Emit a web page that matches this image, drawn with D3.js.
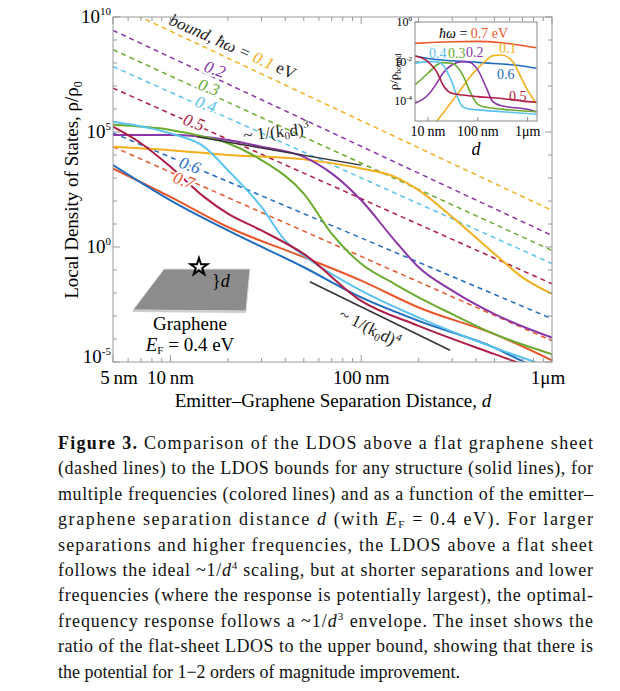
<!DOCTYPE html>
<html>
<head>
<meta charset="utf-8">
<script src="https://cdn.jsdelivr.net/npm/d3@7"></script>
<style>
  body { margin: 0; background: #fff; }
  svg text { font-family: "Liberation Serif", "DejaVu Serif", serif; }
  .halo { paint-order: stroke; stroke: #fff; stroke-width: 4px; stroke-linejoin: round; }
</style>
</head>
<body>
<div id="chart"></div>
<script>
// Frequencies and colours
var freqs = ["0.1", "0.2", "0.3", "0.4", "0.5", "0.6", "0.7"];
var colors = ["#f2b01e", "#8b35a8", "#6aab2f", "#5ac3ee", "#ae1d45", "#1f6cc0", "#e8562a"];

// Dashed (flat sheet) lines: log10 value at 5 nm and at 1 um
var dashStart = [10.56, 9.42, 8.58, 7.85, 6.91, 4.96, 4.36];
var dashEnd = [1.59, 0.50, -0.15, -0.72, -1.60, -3.12, -4.08];

// Solid (bound) curves: distances (nm) and log10 values
var solidD = [
  [5, 10, 20, 50, 100, 150, 200, 300, 500, 700, 1000],
  [5, 10, 20, 30, 50, 70, 100, 150, 200, 300, 500, 1000],
  [5, 10, 15, 20, 30, 50, 70, 100, 150, 200, 300, 500, 1000],
  [5, 10, 15, 20, 30, 40, 50, 100, 200, 500, 1000],
  [5, 7, 10, 15, 20, 30, 50, 100, 200, 500, 700],
  [5, 10, 20, 50, 100, 200, 500, 700, 1000],
  [5, 10, 20, 50, 100, 200, 500, 1000]
];
var solidV = [
  [4.36, 4.21, 4.00, 3.81, 3.41, 3.05, 2.47, 1.30, -0.30, -1.32, -2.04],
  [4.87, 4.87, 4.65, 4.36, 3.92, 3.20, 2.03, 0.28, -0.88, -1.90, -2.92, -3.94],
  [5.31, 5.09, 4.80, 4.51, 3.78, 2.32, 0.58, -0.73, -1.61, -2.19, -2.92, -3.79, -4.66],
  [5.45, 4.94, 4.36, 3.34, 1.74, 0.28, -0.37, -1.90, -3.07, -4.38, -5.25],
  [5.23, 4.51, 3.49, 2.18, 1.45, 0.72, -0.30, -2.34, -3.43, -4.66, -5.10],
  [3.56, 2.03, 0.72, -0.88, -2.19, -3.21, -4.38, -4.96, -5.54],
  [3.41, 2.18, 0.87, -0.44, -1.46, -2.63, -3.79, -4.93]
];

// Inset: rho / rho_bound, distances (nm) and log10 values
var insetD = [
  [15, 20, 30, 50, 70, 100, 150, 200, 300, 500, 700, 1000, 1500],
  [5.5, 10, 15, 20, 30, 50, 70, 100, 150, 200, 300, 1000, 1500],
  [5.5, 10, 15, 20, 30, 50, 70, 100, 150, 300, 1500],
  [5.5, 10, 15, 20, 30, 40, 50, 70, 100, 300, 1500],
  [5.5, 10, 15, 20, 30, 50, 100, 300, 1000, 1500],
  [5.5, 10, 100, 1000, 1500],
  [5.5, 30, 100, 300, 1500]
];
var insetV = [
  [-5.0, -4.61, -4.02, -3.27, -2.76, -2.34, -1.92, -1.70, -1.67, -2.0, -2.68, -3.45, -4.11],
  [-4.11, -3.69, -3.10, -2.59, -2.17, -2.00, -2.05, -2.42, -3.35, -4.02, -4.23, -4.41, -4.53],
  [-3.18, -2.59, -2.17, -2.05, -2.08, -2.68, -3.52, -4.16, -4.31, -4.40, -4.53],
  [-2.09, -2.00, -2.00, -2.17, -3.01, -3.86, -4.28, -4.40, -4.44, -4.53, -4.66],
  [-1.72, -2.00, -2.51, -3.18, -3.60, -3.69, -3.77, -3.86, -4.02, -4.05],
  [-1.72, -1.84, -2.04, -2.26, -2.34],
  [-1.08, -1.00, -0.98, -1.05, -1.30]
];

// Reference slopes: [d0, log0, d1, log1]
var slope3 = [13.8, 4.79, 100, 3.56];
var slope4 = [53.8, -1.51, 292, -4.49];

var caption = [
  "Comparison of the LDOS above a flat graphene sheet",
  "(dashed lines) to the LDOS bounds for any structure (solid lines), for",
  "multiple frequencies (colored lines) and as a function of the emitter\u2013",
  "graphene separation distance",
  "separations and higher frequencies, the LDOS above a flat sheet",
  "follows the ideal",
  "frequencies (where the response is potentially largest), the optimal-",
  "frequency response follows a",
  "ratio of the flat-sheet LDOS to the upper bound, showing that there is",
  "the potential for 1\u22122 orders of magnitude improvement."
];

var svg = d3.select("#chart").append("svg").attr("width", 620).attr("height", 691);

// Main plot scales
var x = d3.scaleLog().domain([5, 1000]).range([113, 552]);
var y = d3.scaleLog().domain([1e-5, 1e10]).range([362, 17]);

svg.append("clipPath").attr("id", "clip")
  .append("rect").attr("x", 113).attr("y", 17).attr("width", 439).attr("height", 345);

var plot = svg.append("g").attr("clip-path", "url(#clip)");

var line = d3.line().x(d => x(d[0])).y(d => y(Math.pow(10, d[1]))).curve(d3.curveMonotoneX);

// dashed lines
freqs.forEach(function (f, i) {
  plot.append("path")
    .attr("d", line([[5, dashStart[i]], [1000, dashEnd[i]]]))
    .attr("fill", "none").attr("stroke", colors[i]).attr("stroke-width", 1.5)
    .attr("stroke-dasharray", "5,4");
});

// labels on dashed lines (white halo breaks the line)
var lab = svg.append("g").attr("font-style", "italic").attr("font-size", 17);
lab.append("text").attr("class", "halo").attr("transform", "translate(168,24) rotate(24)")
  .html("<tspan fill='#222'>bound, \u0127\u03c9 = </tspan><tspan fill='" + colors[0] + "'>0.1</tspan><tspan fill='#222' font-style='normal'> eV</tspan>");
var labPos = [null, [203, 71], [197, 89], [194, 106], [182, 124], [178, 167], [172, 182]];
for (var i = 1; i < 7; i++) {
  lab.append("text").attr("class", "halo")
    .attr("transform", "translate(" + labPos[i][0] + "," + labPos[i][1] + ") rotate(20)")
    .attr("fill", colors[i]).text(freqs[i]);
}

// solid lines, blue/orange first so others sit above them
[6, 5, 0, 1, 2, 3, 4].forEach(function (i) {
  plot.append("path")
    .attr("d", line(d3.zip(solidD[i], solidV[i])))
    .attr("fill", "none").attr("stroke", colors[i]).attr("stroke-width", 2);
});

// reference slope lines
[slope3, slope4].forEach(function (s) {
  plot.append("path")
    .attr("d", line([[s[0], s[1]], [s[2], s[3]]]))
    .attr("stroke", "#333").attr("stroke-width", 1.5).attr("fill", "none");
});

// frame
svg.append("rect").attr("x", 113).attr("y", 17).attr("width", 439).attr("height", 345)
  .attr("fill", "none").attr("stroke", "#999").attr("stroke-width", 1);

// ticks
var xMajor = [5, 10, 100, 1000];
var xLabels = ["5\u2009nm", "10\u2009nm", "100\u2009nm", "1\u03bcm"];
var xMinor = [6, 7, 8, 9, 20, 30, 40, 50, 60, 70, 80, 90, 200, 300, 400, 500, 600, 700, 800, 900];
var yMajor = [-5, 0, 5, 10];
var yMinor = d3.range(-4, 10).filter(v => v % 5 !== 0);

var ticks = svg.append("g").attr("stroke", "#999").attr("stroke-width", 1);
xMajor.concat(xMinor).forEach(function (v) {
  var len = xMajor.indexOf(v) >= 0 ? 7 : 4;
  ticks.append("line").attr("x1", x(v)).attr("x2", x(v)).attr("y1", 362).attr("y2", 362 - len);
  ticks.append("line").attr("x1", x(v)).attr("x2", x(v)).attr("y1", 17).attr("y2", 17 + len);
});
yMajor.concat(yMinor).forEach(function (v) {
  var len = yMajor.indexOf(v) >= 0 ? 7 : 4;
  var py = y(Math.pow(10, v));
  ticks.append("line").attr("x1", 113).attr("x2", 113 + len).attr("y1", py).attr("y2", py);
  ticks.append("line").attr("x1", 552).attr("x2", 552 - len).attr("y1", py).attr("y2", py);
});

xMajor.forEach(function (v, i) {
  svg.append("text").attr("x", x(v) + (i === 3 ? -4 : i === 0 ? 6 : 0)).attr("y", 384)
    .attr("text-anchor", "middle").attr("font-size", 19).text(xLabels[i]);
});
yMajor.forEach(function (v) {
  var py = y(Math.pow(10, v)) + 6 - (v === -5 ? 5 : 0);
  var t = svg.append("text").attr("x", 111).attr("y", py)
    .attr("text-anchor", "end").attr("font-size", 19);
  t.append("tspan").text("10");
  t.append("tspan").attr("font-size", 11).attr("dy", -8).text(v);
});

svg.append("text").attr("x", 333).attr("y", 407).attr("text-anchor", "middle")
  .attr("font-size", 19).html("Emitter\u2013Graphene Separation Distance, <tspan font-style='italic'>d</tspan>");
svg.append("text").attr("transform", "translate(78,190) rotate(-90)").attr("text-anchor", "middle")
  .attr("font-size", 19).html("Local Density of States, \u03c1/\u03c1<tspan font-size='12' dy='4'>0</tspan>");

svg.append("text").attr("transform", "translate(244,141) rotate(-6)").attr("font-size", 17).attr("fill", "#222")
  .html("~ 1/(k<tspan font-size='11' dy='3'>0</tspan><tspan dy='-3'>d)</tspan><tspan font-size='11' dy='-7'>3</tspan>");
svg.append("text").attr("transform", "translate(338,318) rotate(27)").attr("font-size", 17).attr("fill", "#222")
  .html("~ 1/(k<tspan font-size='11' dy='3'>0</tspan><tspan dy='-3'>d)</tspan><tspan font-size='11' dy='-7'>4</tspan>");

// graphene sketch
svg.append("polygon").attr("points", "133,310 164,269 250,269 246,311")
  .attr("fill", "#8c8c8c").attr("stroke", "#ddd");
svg.append("polygon").attr("points", "133,310 246,311 246,313 133,312").attr("fill", "#ccc");
var star = d3.symbol().type(d3.symbolStar).size(90);
svg.append("path").attr("d", star()).attr("transform", "translate(199,267)")
  .attr("fill", "none").attr("stroke", "#000").attr("stroke-width", 2);
svg.append("text").attr("x", 212).attr("y", 287).attr("font-size", 18).html("}<tspan font-style='italic'>d</tspan>");
svg.append("text").attr("x", 190).attr("y", 330).attr("text-anchor", "middle").attr("font-size", 19).text("Graphene");
svg.append("text").attr("x", 190).attr("y", 351).attr("text-anchor", "middle").attr("font-size", 19)
  .html("<tspan font-style='italic'>E</tspan><tspan font-size='11' dy='3'>F</tspan><tspan dy='-3'> = 0.4 eV</tspan>");

// ----- inset -----
var ix = d3.scaleLog().domain([5.5, 1540]).range([415, 537]);
var iy = d3.scaleLog().domain([1e-5, 1]).range([121, 22]);
svg.append("rect").attr("x", 415).attr("y", 22).attr("width", 122).attr("height", 99).attr("fill", "#fff");
svg.append("clipPath").attr("id", "iclip")
  .append("rect").attr("x", 415).attr("y", 22).attr("width", 122).attr("height", 99);
var ig = svg.append("g").attr("clip-path", "url(#iclip)");
var iline = d3.line().x(d => ix(d[0])).y(d => iy(Math.pow(10, d[1]))).curve(d3.curveMonotoneX);
[6, 5, 0, 1, 2, 3, 4].forEach(function (i) {
  ig.append("path").attr("d", iline(d3.zip(insetD[i], insetV[i])))
    .attr("fill", "none").attr("stroke", colors[i]).attr("stroke-width", 1.6);
});
svg.append("rect").attr("x", 415).attr("y", 22).attr("width", 122).attr("height", 99)
  .attr("fill", "none").attr("stroke", "#888");
[10, 100, 1000].forEach(function (v) {
  svg.append("line").attr("x1", ix(v)).attr("x2", ix(v)).attr("y1", 121).attr("y2", 117).attr("stroke", "#888");
});
[0, -2, -4].forEach(function (v) {
  var py = iy(Math.pow(10, v));
  svg.append("line").attr("x1", 415).attr("x2", 419).attr("y1", py).attr("y2", py).attr("stroke", "#888");
  var t = svg.append("text").attr("x", 412).attr("y", py + 4).attr("text-anchor", "end").attr("font-size", 12);
  t.append("tspan").text("10");
  t.append("tspan").attr("font-size", 7).attr("dy", -5).text(v);
});
[["10\u2009nm", 10], ["100\u2009nm", 100], ["1\u03bcm", 1000]].forEach(function (l) {
  svg.append("text").attr("x", ix(l[1])).attr("y", 136).attr("text-anchor", "middle").attr("font-size", 14).text(l[0]);
});
svg.append("text").attr("x", 476).attr("y", 155).attr("text-anchor", "middle").attr("font-size", 18)
  .attr("font-style", "italic").text("d");
svg.append("text").attr("transform", "translate(398,72) rotate(-90)").attr("text-anchor", "middle")
  .attr("font-size", 13).html("\u03c1/\u03c1<tspan font-size='8' dy='3'>bound</tspan>");
var il = svg.append("g").attr("font-size", 14);
il.append("text").attr("x", 439).attr("y", 38)
  .html("<tspan font-style='italic'>\u0127\u03c9</tspan> = <tspan fill='" + colors[6] + "'>0.7 eV</tspan>");
[[0, 499, 53], [1, 466, 57], [2, 448, 58], [3, 429, 58], [5, 497, 79], [4, 509, 101]].forEach(function (p) {
  il.append("text").attr("x", p[1]).attr("y", p[2]).attr("fill", colors[p[0]]).text(freqs[p[0]]);
});

// ----- caption -----
var cap = svg.append("g").attr("font-size", 18).attr("fill", "#111");
var x0 = 58, x1 = 593;
caption.forEach(function (s, i) {
  var t = cap.append("text").attr("x", x0).attr("y", 449 + i * 25.4);
  if (i === 0) {
    t.append("tspan").attr("font-weight", "bold").text("Figure 3. ");
    t.append("tspan").text(s);
  } else if (i === 3) {
    t.html(s + " <tspan font-style='italic'>d</tspan> (with <tspan font-style='italic'>E</tspan><tspan font-size='11' dy='3'>F</tspan><tspan dy='-3'> = 0.4 eV). For larger</tspan>");
  } else if (i === 5) {
    t.html(s + " ~1/<tspan font-style='italic'>d</tspan><tspan font-size='11' dy='-7'>4</tspan><tspan dy='7'> scaling, but at shorter separations and lower</tspan>");
  } else if (i === 7) {
    t.html(s + " ~1/<tspan font-style='italic'>d</tspan><tspan font-size='11' dy='-7'>3</tspan><tspan dy='7'> envelope. The inset shows the</tspan>");
  } else {
    t.text(s);
  }
  if (i < 9) t.attr("textLength", x1 - x0).attr("lengthAdjust", "spacing");
});
</script>
</body>
</html>
